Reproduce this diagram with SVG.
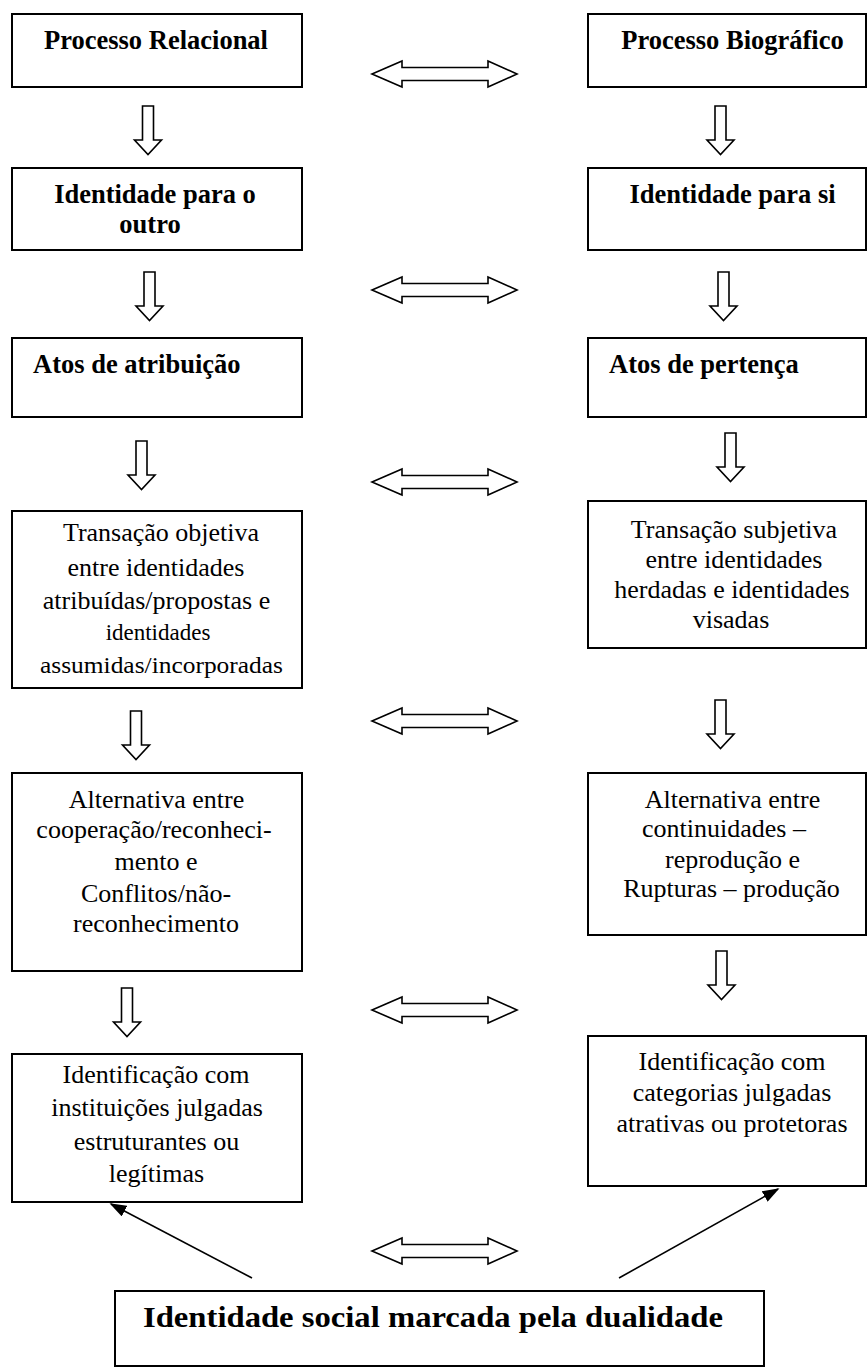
<svg xmlns="http://www.w3.org/2000/svg" xmlns:xlink="http://www.w3.org/1999/xlink" width="868" height="1369" viewBox="0 0 868 1369">
<style>
.box{fill:#fff;stroke:#000;stroke-width:2}
.b{font-family:"Liberation Serif","Times New Roman",serif;font-weight:bold;font-size:26.5px;fill:#000}
.t{font-family:"Liberation Serif","Times New Roman",serif;font-size:26px;fill:#000;text-anchor:middle}
.s{font-size:23px}
.m{text-anchor:middle}
.arr{fill:#fff;stroke:#000;stroke-width:1.6;stroke-linejoin:miter}
.ln{stroke:#000;stroke-width:1.6;fill:none}
</style>
<defs>
<path id="down" d="M-5.5,0 H5.5 V34 H13.5 L0,48.5 L-13.5,34 H-5.5 Z"/>
<path id="dbl" d="M-72.5,0 L-42.5,-13 V-6.5 H43.5 V-13 L72.5,0 L43.5,13 V6.5 H-42.5 V13 Z"/>
<marker id="headL" viewBox="0 0 10 10" refX="9" refY="5" markerWidth="17" markerHeight="12" markerUnits="userSpaceOnUse" orient="auto" preserveAspectRatio="none">
<path d="M0,0 L10,5 L0,10 Z" fill="#000"/>
</marker>
</defs>

<g id="connectors">
<use href="#down" class="arr" x="148" y="106"/>
<use href="#down" class="arr" x="149.5" y="272"/>
<use href="#down" class="arr" x="141.5" y="441"/>
<use href="#down" class="arr" x="136" y="711"/>
<use href="#down" class="arr" x="127" y="988"/>
<use href="#down" class="arr" x="720.5" y="106"/>
<use href="#down" class="arr" x="723.5" y="272"/>
<use href="#down" class="arr" x="730.5" y="433"/>
<use href="#down" class="arr" x="720.5" y="700"/>
<use href="#down" class="arr" x="721.5" y="951"/>
<use href="#dbl" class="arr" x="444.5" y="74"/>
<use href="#dbl" class="arr" x="444.5" y="290"/>
<use href="#dbl" class="arr" x="444.5" y="482"/>
<use href="#dbl" class="arr" x="444.5" y="721"/>
<use href="#dbl" class="arr" x="444.5" y="1010"/>
<use href="#dbl" class="arr" x="444.5" y="1251"/>
<line class="ln" x1="252" y1="1278" x2="111" y2="1204" marker-end="url(#headL)"/>
<line class="ln" x1="619" y1="1278" x2="778" y2="1189" marker-end="url(#headL)"/>
</g>

<g id="processo-relacional">
<rect class="box" x="12" y="14" width="290" height="73"/>
<text class="b m" x="156" y="49">Processo Relacional</text>
</g>
<g id="processo-biografico">
<rect class="box" x="588" y="14" width="278" height="73"/>
<text class="b m" x="732.5" y="49">Processo Biográfico</text>
</g>
<g id="identidade-outro">
<rect class="box" x="12" y="168" width="290" height="82"/>
<text class="b m" x="155" y="203">Identidade para o</text>
<text class="b m" x="150" y="233">outro</text>
</g>
<g id="identidade-si">
<rect class="box" x="588" y="168" width="278" height="82"/>
<text class="b m" x="732.5" y="203">Identidade para si</text>
</g>
<g id="atos-atribuicao">
<rect class="box" x="12" y="338" width="290" height="79"/>
<text class="b" x="33" y="373">Atos de atribuição</text>
</g>
<g id="atos-pertenca">
<rect class="box" x="588" y="338" width="278" height="79"/>
<text class="b" x="609" y="373">Atos de pertença</text>
</g>
<g id="transacao-objetiva">
<rect class="box" x="12" y="511" width="290" height="177"/>
<text class="t" x="161" y="541">Transação objetiva</text>
<text class="t" x="156" y="576">entre identidades</text>
<text class="t" x="156.5" y="609">atribuídas/propostas e</text>
<text class="t s" x="158" y="640">identidades</text>
<text class="t s" x="161.5" y="673" textLength="243" lengthAdjust="spacingAndGlyphs">assumidas/incorporadas</text>
</g>
<g id="transacao-subjetiva">
<rect class="box" x="588" y="501" width="278" height="147"/>
<text class="t" x="734" y="538">Transação subjetiva</text>
<text class="t" x="734" y="568">entre identidades</text>
<text class="t" x="732" y="598">herdadas e identidades</text>
<text class="t" x="731" y="628">visadas</text>
</g>
<g id="alternativa-cooperacao">
<rect class="box" x="12" y="773" width="290" height="198"/>
<text class="t" x="156.5" y="808">Alternativa entre</text>
<text class="t" x="154" y="838">cooperação/reconheci-</text>
<text class="t" x="156" y="870">mento e</text>
<text class="t" x="156" y="902">Conflitos/não-</text>
<text class="t" x="156" y="932">reconhecimento</text>
</g>
<g id="alternativa-continuidades">
<rect class="box" x="588" y="773" width="278" height="162"/>
<text class="t" x="732.5" y="808">Alternativa entre</text>
<text class="t" x="724" y="837">continuidades –</text>
<text class="t" x="732.5" y="868">reprodução e</text>
<text class="t" x="731.5" y="897">Rupturas – produção</text>
</g>
<g id="identificacao-instituicoes">
<rect class="box" x="12" y="1054" width="290" height="148"/>
<text class="t" x="156" y="1083">Identificação com</text>
<text class="t" x="157" y="1116">instituições julgadas</text>
<text class="t" x="156.5" y="1150">estruturantes ou</text>
<text class="t" x="156.5" y="1182">legítimas</text>
</g>
<g id="identificacao-categorias">
<rect class="box" x="588" y="1036" width="278" height="150"/>
<text class="t" x="732" y="1070">Identificação com</text>
<text class="t" x="732" y="1101">categorias julgadas</text>
<text class="t" x="732" y="1132">atrativas ou protetoras</text>
</g>
<g id="identidade-social">
<rect class="box" x="115" y="1291" width="649" height="75"/>
<text class="b m" x="433" y="1327" style="font-size:30px" textLength="580" lengthAdjust="spacingAndGlyphs">Identidade social marcada pela dualidade</text>
</g>
</svg>
